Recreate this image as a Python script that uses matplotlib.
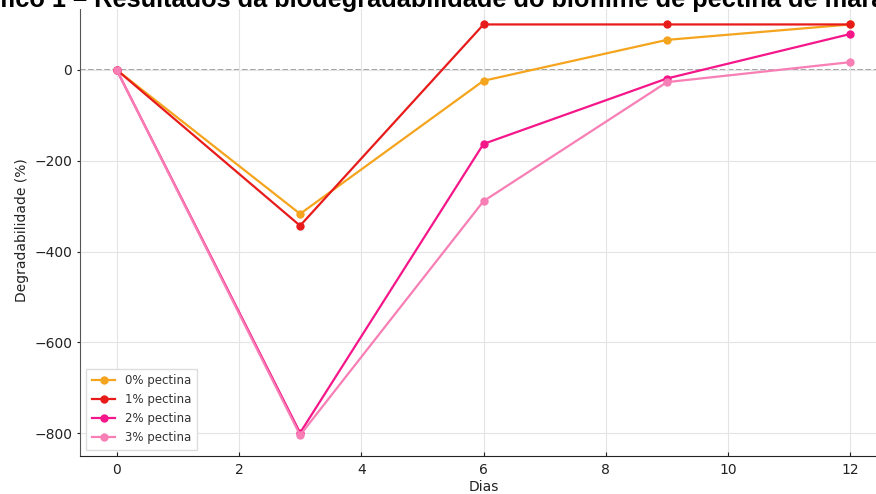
import matplotlib.pyplot as plt
import matplotlib.patches as mpatches

# INPUT
dias = [0, 3, 6, 9, 12]
pectina_0 = [0, -317, -24, 66, 100]
pectina_1 = [0, -343, 100, 100, 100]
pectina_2 = [0, -799, -163, -19, 79]
pectina_3 = [0, -804, -289, -27, 17]
labels = ['0% pectina', '1% pectina', '2% pectina', '3% pectina']
colors = ['#f5a41d', '#e81b1b', '#f5168a', '#f77fb5']
titulo = 'Gráfico 1 – Resultados da biodegradabilidade do biofilme de pectina de maracujá'
# END INPUT

W, H = 876, 494
fig = plt.figure(figsize=(W / 100, H / 100), dpi=100)
ax = fig.add_axes([80 / W, 38 / H, 807 / W, 452 / H])

series = [pectina_0, pectina_1, pectina_2, pectina_3]
for y, lab, c in zip(series, labels, colors):
    ax.plot(dias, y, marker='o', markersize=5, linewidth=1.6, color=c, label=lab)

ax.axhline(0, color='#888888', linestyle='--', linewidth=1.1, zorder=0)
ax.grid(True, color='#e4e4e4', linewidth=0.8)
ax.set_axisbelow(True)
ax.set_xlim(-0.6, 12.6)
ax.set_ylim(-850, 145)
ax.set_xticks([0, 2, 4, 6, 8, 10, 12])
ax.set_yticks([-800, -600, -400, -200, 0])
ax.tick_params(labelsize=10, colors='#222222')
ax.tick_params(axis='x', direction='in', length=3, pad=5)
ax.tick_params(axis='y', direction='out', length=2.5, pad=3)
ax.set_xlabel('Dias', fontsize=10, color='#222222', labelpad=2)
ax.set_ylabel('Degradabilidade (%)', fontsize=10, color='#222222', labelpad=4)
for s in ['top', 'right']:
    ax.spines[s].set_visible(False)
ax.spines['left'].set_color('#555555')
ax.spines['bottom'].set_color('#222222')

leg = ax.legend(loc='lower left', fontsize=8.5, frameon=True, framealpha=1,
                edgecolor='#dddddd', fancybox=False, borderpad=0.5)
for t in leg.get_texts():
    t.set_color('#333333')

# white strip at the top with the cropped title
fig.patches.append(mpatches.Rectangle((0, 1 - 9 / H), 1, 9 / H, transform=fig.transFigure,
                                      facecolor='white', edgecolor='none', zorder=5))
fig.text(-0.050, 1 - 7.5 / H, titulo, fontsize=18.3, fontweight='bold',
         family='Liberation Sans', ha='left', va='baseline', zorder=6)

fig.savefig('out.png', dpi=100)
